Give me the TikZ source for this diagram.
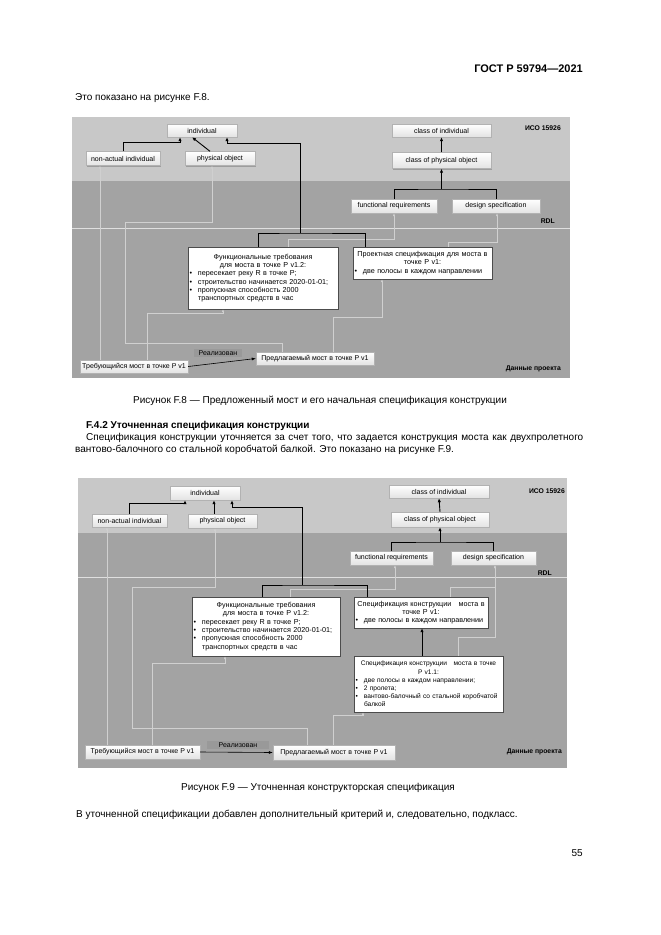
\documentclass[tikz,border=0pt]{standalone}
\usepackage{fontspec}
\setmainfont{Liberation Sans}
\usetikzlibrary{arrows.meta,positioning,calc,shadows}
\definecolor{isoband}{HTML}{C8C8C8}
\definecolor{rdlband}{HTML}{A3A3A3}
\definecolor{linkgray}{HTML}{D0D0D0}
\newcommand{\bul}{\makebox[8.5pt][l]{\textbullet}}
\newcommand{\bodyfont}{\fontsize{10}{12}\selectfont}

\begin{document}
\begin{tikzpicture}[x=1pt,y=-1pt,
  cls/.style={draw=gray!60,top color=white,bottom color=gray!22,
              inner sep=0pt,font=\fontsize{7}{8}\selectfont,
              drop shadow={shadow xshift=1pt,shadow yshift=-1pt,fill=black!55}},
  spec/.style={draw=black!70,fill=white,inner xsep=1.5pt,inner ysep=2pt,
               font=\fontsize{7.2}{8.3}\selectfont,
               drop shadow={shadow xshift=1.2pt,shadow yshift=-1.2pt,fill=black!55}},
  lbl/.style={fill=black!40,inner xsep=5pt,inner ysep=2pt,font=\fontsize{7}{8}\selectfont},
  band/.style={font=\fontsize{6.8}{8}\bfseries\selectfont,inner sep=0pt},
  txt/.style={inner sep=0pt,font=\bodyfont},
  isa/.style={-{Latex[length=4pt,width=3.4pt]},line width=0.9pt},
  tree/.style={line width=0.9pt},
  link/.style={-{Latex[length=3pt,width=2.4pt]},draw=linkgray,line width=0.5pt},
  real/.style={-{Latex[length=4pt,width=3pt]},line width=0.6pt}]
\useasboundingbox (0,0) rectangle (661,935);
%%
%% Page text
\node[txt,anchor=base east,font=\fontsize{11}{13}\bfseries\selectfont] (hdr) at (583,72) {ГОСТ Р 59794—2021};
\node[txt,anchor=base west] (intro) at (75,100) {Это показано на рисунке F.8.};
\node[txt,anchor=base] (cap1) at (320,403) {Рисунок F.8 — Предложенный мост и его начальная спецификация конструкции};
\node[txt,anchor=base west,font=\bodyfont\bfseries] (sec) at (86,428) {F.4.2 Уточненная спецификация конструкции};
\node[txt,anchor=base west] (par1) at (86,440) {\makebox[497pt][s]{Спецификация конструкции уточняется за счет того, что задается конструкция моста как двухпролетного}};
\node[txt,anchor=base west] (par2) at (75,452) {вантово-балочного со стальной коробчатой балкой. Это показано на рисунке F.9.};
\node[txt,anchor=base] (cap2) at (318,790) {Рисунок F.9 — Уточненная конструкторская спецификация};
\node[txt,anchor=base west] (fin) at (76,817) {В уточненной спецификации добавлен дополнительный критерий и, следовательно, подкласс.};
\node[txt,anchor=base east] (pg) at (583,856) {55};
%%
%% Figure F.8 -- bands
\fill[rdlband] (72,117) rectangle (570,378);
\fill[isoband] (72,117) rectangle (570,181);
\draw[gray!25,line width=0.6pt] (72,228) -- (570,228);
\node[band,anchor=east] (iso1)  at (561,128) {ИСО 15926};
\node[band,anchor=east] (rdl1)  at (555,221) {RDL};
\node[band,anchor=east] (data1) at (561,369) {Данные проекта};
%%
%% Figure F.8 -- nodes
\node[cls,minimum width=70pt,minimum height=13pt] (ind1)   at (202,130.5) {individual};
\node[cls,minimum width=74pt,minimum height=14pt] (nai1)   at (123,158.5) {non-actual individual};
\node[cls,minimum width=70pt,minimum height=14pt] (phys1)  at (220,158.5) {physical object};
\node[cls,minimum width=99pt,minimum height=13pt] (coi1)   at (441.5,130.5) {class of individual};
\node[cls,minimum width=99pt,minimum height=16pt] (cpo1)   at (441.5,160.5) {class of physical object};
\node[cls,minimum width=86pt,minimum height=14pt] (freq1)  at (394,206) {functional requirements};
\node[cls,minimum width=88pt,minimum height=14pt] (dspec1) at (496,206) {design specification};
\node[spec,text width=147pt,minimum height=62pt] (func1) at (263,278)
  {{\centering Функциональные требования\\для моста в точке P v1.2:\par}\raggedright
   \bul пересекает реку R в точке P;\\
   \bul строительство начинается 2020-01-01;\\
   \bul пропускная способность 2000\\
   \hspace*{8.5pt}транспортных средств в час\par\vspace*{3pt}};
\node[spec,text width=136pt,minimum height=32pt] (proj1) at (422.5,263)
  {{\centering Проектная спецификация для моста в\\точке P v1:\par}\raggedright
   \bul две полосы в каждом направлении};
\node[cls,minimum width=108pt,minimum height=13pt] (req1)  at (134,366.5) {Требующийся мост в точке P v1};
\node[cls,minimum width=118pt,minimum height=13pt] (prop1) at (315,358.5) {Предлагаемый мост в точке P v1};
\node[lbl] (real1) at (218,353) {Реализован};
%%
%% Figure F.8 -- classification links (thin)
\draw[link] ([xshift=-34pt]req1.north) -- ([xshift=-34pt]req1.north |- nai1.south);
\coordinate (c1) at (125,343);
\draw[link] ([xshift=-33pt]prop1.north) |- (c1) -- (125,222) -| ([xshift=-8pt]phys1.south);
\draw[link] ([xshift=13pt]req1.north) -- ++(0,-47) -| ([xshift=-40pt]func1.south);
\draw[link] ([xshift=25pt]func1.north) -- ++(0,-8) -| (freq1.south);
\draw[link] ([xshift=25.5pt]proj1.north) -- ++(0,-5) -| ([xshift=1pt]dspec1.south);
\draw[link] ([xshift=18pt]prop1.north) -- ++(0,-35) -| ([xshift=-40.5pt]proj1.south);
%%
%% Figure F.8 -- subclass links (thick)
\draw[isa] (nai1.north) -- ++(0,-9) -| ([xshift=-22pt]ind1.south);
\draw[isa] ([xshift=-10pt]phys1.north) -- ([xshift=-10pt]ind1.south);
\coordinate (j1) at (300,233);
\coordinate (k1) at (300,143);
\draw[tree] ([xshift=-5pt]func1.north) |- (j1) -| ([xshift=-57.5pt]proj1.north);
\draw[isa] (j1) -- (k1) -| ([xshift=25pt]ind1.south);
\draw[isa] (cpo1.north) -- (coi1.south);
\coordinate (j2) at (441.5,189);
\draw[tree] (freq1.north) |- (j2) -| (dspec1.north);
\draw[isa] (j2) -- (cpo1.south);
\draw[real] (req1.east) -- (prop1.west);
%%
%% Figure F.9 -- bands
\fill[rdlband] (78,478) rectangle (567,768);
\fill[isoband] (78,478) rectangle (567,533);
\draw[gray!25,line width=0.6pt] (78,577) -- (567,577);
\node[band,anchor=east] (iso2)  at (565,491) {ИСО 15926};
\node[band,anchor=east] (rdl2)  at (552,573) {RDL};
\node[band,anchor=east] (data2) at (562,752) {Данные проекта};
%%
%% Figure F.9 -- nodes
\node[cls,minimum width=70pt,minimum height=14pt] (ind2)   at (205,493) {individual};
\node[cls,minimum width=75pt,minimum height=13pt] (nai2)   at (129.5,520.5) {non-actual individual};
\node[cls,minimum width=69pt,minimum height=14pt] (phys2)  at (222.5,521) {physical object};
\node[cls,minimum width=100pt,minimum height=13pt] (coi2)  at (439,491.5) {class of individual};
\node[cls,minimum width=98pt,minimum height=15pt] (cpo2)   at (440,519.5) {class of physical object};
\node[cls,minimum width=83pt,minimum height=14pt] (freq2)  at (391.5,558) {functional requirements};
\node[cls,minimum width=85pt,minimum height=14pt] (dspec2) at (493.5,558) {design specification};
\node[spec,text width=145pt,minimum height=59pt] (func2) at (266,626.5)
  {{\centering Функциональные требования\\для моста в точке P v1.2:\par}\raggedright
   \bul пересекает реку R в точке P;\\
   \bul строительство начинается 2020-01-01;\\
   \bul пропускная способность 2000\\
   \hspace*{8.5pt}транспортных средств в час\par\vspace*{2pt}};
\node[spec,text width=131pt,minimum height=31pt] (spec2) at (421,612.5)
  {{\centering Спецификация конструкции\quad моста в\\точке P v1:\par}\raggedright
   \bul две полосы в каждом направлении};
\node[spec,text width=146pt,minimum height=56pt,font=\fontsize{6.6}{8.2}\selectfont] (spec2b) at (428.5,684)
  {{\centering Спецификация конструкции\quad моста в точке\\P v1.1:\par}\raggedright
   \bul две полосы в каждом направлении;\\
   \bul 2 пролета;\\
   \bul\mbox{вантово-балочный со стальной коробчатой}\\
   \hspace*{8.5pt}балкой};
\node[cls,minimum width=115pt,minimum height=14pt] (req2)  at (142.5,752) {Требующийся мост в точке P v1};
\node[cls,minimum width=122pt,minimum height=15pt] (prop2) at (334,752.5) {Предлагаемый мост в точке P v1};
\node[lbl,minimum width=62pt] (real2) at (238,745) {Реализован};
%%
%% Figure F.9 -- classification links (thin)
\draw[link] ([xshift=-35.5pt]req2.north) -- ([xshift=-35.5pt]req2.north |- nai2.south);
\coordinate (c2) at (132,728);
\draw[link] ([xshift=-27pt]prop2.north) |- (c2) -- (132,587) -| ([xshift=-7.5pt]phys2.south);
\draw[link] ([xshift=9.5pt]req2.north) -- ++(0,-82) -| ([xshift=-41pt]func2.south);
\draw[link] ([xshift=24pt]func2.north) -- ++(0,-8) -| ([xshift=3.5pt]freq2.south);
\draw[link] ([xshift=29pt]spec2.north) -- ++(0,-10) -| ([xshift=1.5pt]dspec2.south);
\draw[link] ([xshift=29.5pt]spec2b.north) -- ++(0,-19) -| ([xshift=1.5pt]dspec2.south);
\draw[link] ([xshift=-1pt]prop2.north) -- ++(0,-30) -| ([xshift=-65.5pt]spec2b.south);
%%
%% Figure F.9 -- subclass links (thick)
\draw[isa] (nai2.north) -- ++(0,-10) -| ([xshift=-20pt]ind2.south);
\draw[isa] ([xshift=-8.5pt]phys2.north) -- ([xshift=-8.5pt]phys2.north |- ind2.south);
\coordinate (j3) at (302,585);
\coordinate (k3) at (302,507);
\draw[tree] ([xshift=-4pt]func2.north) |- (j3) -| ([xshift=-54pt]spec2.north);
\draw[isa] (j3) -- (k3) -| ([xshift=27pt]ind2.south);
\draw[isa] (cpo2.north) -- (coi2.south);
\coordinate (j4) at (440,542);
\draw[tree] (freq2.north) |- (j4) -| (dspec2.north);
\draw[isa] (j4) -- (cpo2.south);
\draw[isa] ([xshift=-6.5pt]spec2b.north) -- ([xshift=-6.5pt]spec2b.north |- spec2.south);
\draw[real] (req2.east) -- (prop2.west);
\end{tikzpicture}
\end{document}
